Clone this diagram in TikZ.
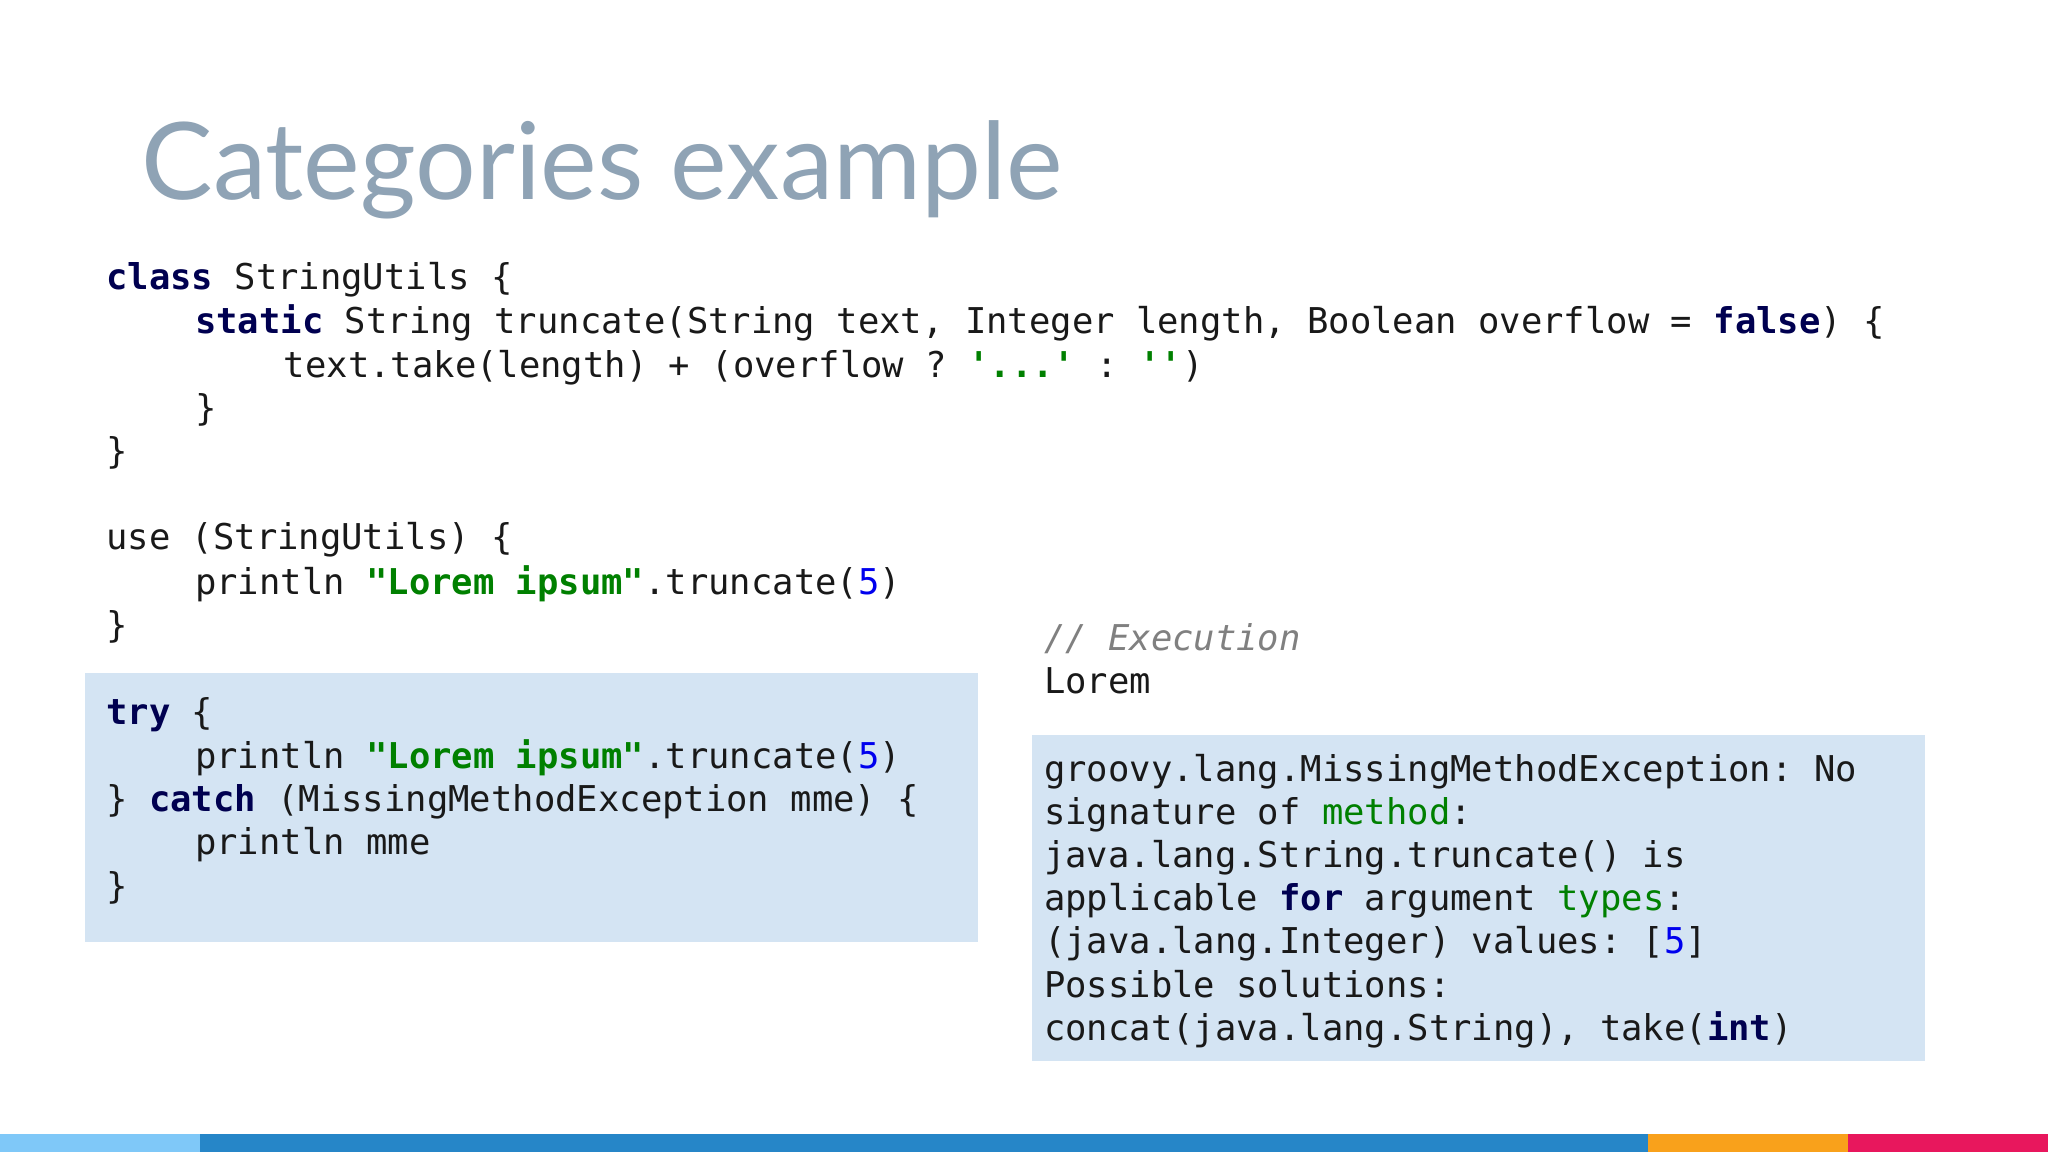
\documentclass[tikz,border=0pt]{standalone}
\usepackage{fontspec}
\setmainfont{Lato}
\setmonofont{DejaVu Sans Mono}
\definecolor{kw}{HTML}{000050}
\definecolor{st}{HTML}{008000}
\definecolor{nu}{HTML}{0000EE}
\definecolor{cm}{HTML}{808080}
\definecolor{bx}{HTML}{D4E4F3}
\definecolor{tt}{HTML}{8FA3B5}
\definecolor{barA}{RGB}{127,200,248}
\definecolor{barB}{RGB}{38,134,200}
\definecolor{barC}{RGB}{249,161,27}
\definecolor{barD}{RGB}{232,23,93}
\newcommand{\K}[1]{\textcolor{kw}{\bfseries #1}}
\newcommand{\St}[1]{\textcolor{st}{\bfseries #1}}
\newcommand{\G}[1]{\textcolor{st}{#1}}
\newcommand{\N}[1]{\textcolor{nu}{#1}}
\begin{document}
\begin{tikzpicture}[x=0.5pt,y=-0.5pt,
  cl/.style={anchor=base west,inner sep=0pt,font=\ttfamily\fontsize{13.6pt}{16pt}\selectfont,text=black!90}]
\path[use as bounding box,fill=white] (0,0) rectangle (1568,882);
\fill[bx] (65,515) rectangle (749,721);
\fill[bx] (790,563) rectangle (1474,812);
\fill[barA] (0,868) rectangle (153,882);
\fill[barB] (153,868) rectangle (1262,882);
\fill[barC] (1262,868) rectangle (1415,882);
\fill[barD] (1415,868) rectangle (1568,882);
\node[anchor=base west,inner sep=0pt,text=tt,font=\fontsize{41pt}{48pt}\selectfont] (title) at (108,153) {Categories example};
\node[cl] (a1) at (81,222) {\K{class} StringUtils \{};
\node[cl] (a2) at (149,255) {\K{static} String truncate(String text, Integer length, Boolean overflow = \K{false}) \{};
\node[cl] (a3) at (217,289) {text.take(length) + (overflow ? \St{'...'} : \St{''})};
\node[cl] (a4) at (149,322) {\}};
\node[cl] (a5) at (81,355) {\}};
\node[cl] (b1) at (81,421) {use (StringUtils) \{};
\node[cl] (b2) at (149,455) {println \St{"Lorem ipsum"}.truncate(\N{5})};
\node[cl] (b3) at (81,488) {\}};
\node[cl] (c1) at (81,555) {\K{try} \{};
\node[cl] (c2) at (149,588) {println \St{"Lorem ipsum"}.truncate(\N{5})};
\node[cl] (c3) at (81,621) {\} \K{catch} (MissingMethodException mme) \{};
\node[cl] (c4) at (149,654) {println mme};
\node[cl] (c5) at (81,688) {\}};
\node[cl] (e1) at (799,498) {\textcolor{cm}{\itshape // Execution}};
\node[cl] (e2) at (799,531) {Lorem};
\node[cl] (r1) at (799,598) {groovy.lang.MissingMethodException: No};
\node[cl] (r2) at (799,631) {signature of \G{method}:};
\node[cl] (r3) at (799,664) {java.lang.String.truncate() is};
\node[cl] (r4) at (799,697) {applicable \K{for} argument \G{types}:};
\node[cl] (r5) at (799,730) {(java.lang.Integer) values: [\N{5}]};
\node[cl] (r6) at (799,764) {Possible solutions:};
\node[cl] (r7) at (799,797) {concat(java.lang.String), take(\K{int})};
\end{tikzpicture}
\end{document}
